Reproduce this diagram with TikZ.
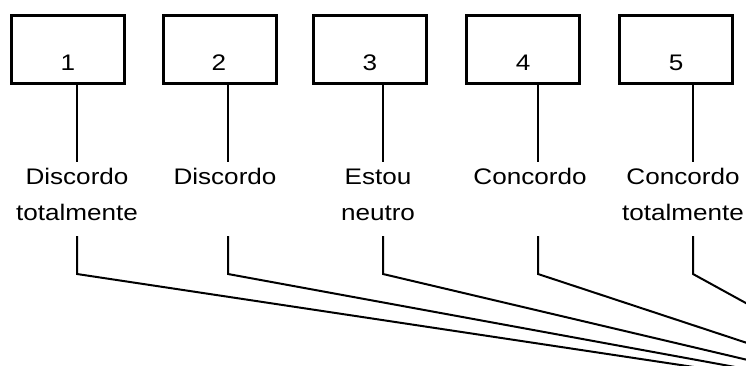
\documentclass[tikz,border=0pt]{standalone}
\usepackage{fontspec}
\setmainfont[FakeStretch=1.16]{Liberation Sans}
\begin{document}
\begin{tikzpicture}[x=1pt,y=-1pt,
  box/.style={draw=black,line width=3pt,minimum width=113pt,minimum height=68pt,inner sep=0pt},
  num/.style={font=\fontsize{22.5}{36}\selectfont,inner sep=0pt,anchor=base},
  lbl/.style={font=\fontsize{22.5}{36}\selectfont,align=center,inner sep=0pt,anchor=base},
  wire/.style={draw=black,line width=2pt,line join=miter}]
\useasboundingbox (0,0) rectangle (746,365);
\clip (0,0) rectangle (746,365);
% boxes
\node[box] (b1) at (67.5,49) {};
\node[box] (b2) at (220,49) {};
\node[box] (b3) at (370,49) {};
\node[box] (b4) at (522.5,49) {};
\node[box] (b5) at (676,49) {};
% numbers
\node[num] (n1) at (68,70) {1};
\node[num] (n2) at (219,70) {2};
\node[num] (n3) at (370,70) {3};
\node[num] (n4) at (523,70) {4};
\node[num] (n5) at (676,70) {5};
% labels (base = baseline of last line)
\node[lbl] (l1) at (77,220) {Discordo\\totalmente};
\node[lbl] (l2) at (225,184) {Discordo};
\node[lbl] (l3) at (378,220) {Estou\\neutro};
\node[lbl] (l4) at (530,184) {Concordo};
\node[lbl] (l5) at (683,220) {Concordo\\totalmente};
% connector coordinates
\foreach \i/\x in {1/77,2/228,3/383,4/538,5/693}{
  \coordinate (u\i) at (\x,162);
  \coordinate (t\i) at (\x,236);
  \coordinate (k\i) at (\x,274);
}
\coordinate (F) at (926,402);
\foreach \i in {1,...,5}{
  \draw[wire] (b\i.south -| u\i) -- (u\i);
  \draw[wire] (t\i) -- (k\i) -- (F);
}
\end{tikzpicture}
\end{document}
